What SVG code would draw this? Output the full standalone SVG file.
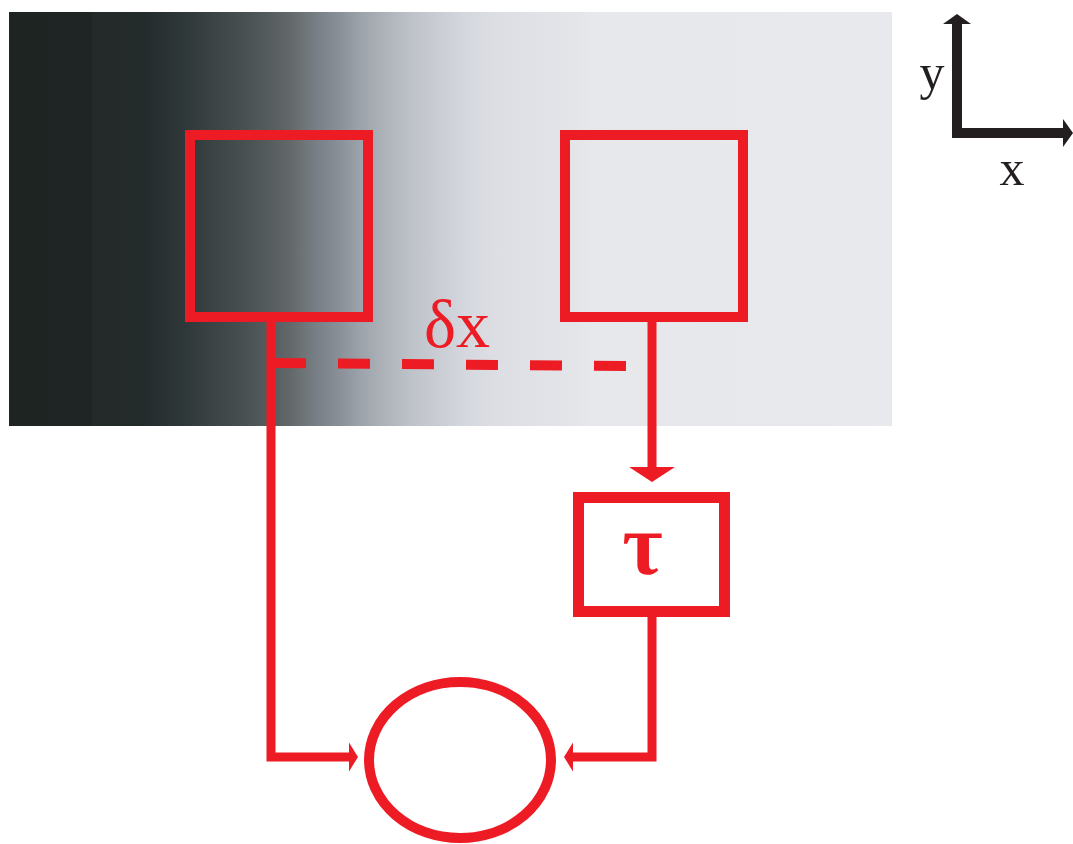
<svg xmlns="http://www.w3.org/2000/svg" width="1073" height="844" viewBox="0 0 1073 844">
<style>
.red{fill:none;stroke:#ed1c24;stroke-linejoin:miter;stroke-linecap:butt}
.box{stroke-width:10}
.conn{stroke-width:9}
.ax{fill:none;stroke:#231f20;stroke-width:10}
.serif{font-family:"Liberation Serif","Times New Roman",serif}
</style>
<defs>
<linearGradient id="grad" gradientUnits="userSpaceOnUse" x1="9" y1="0" x2="892" y2="0">
<stop offset="0" stop-color="#1e2422"/>
<stop offset="0.094" stop-color="#1f2524"/>
<stop offset="0.094" stop-color="#232a29"/>
<stop offset="0.153" stop-color="#242b2b"/>
<stop offset="0.160" stop-color="#252d2f"/>
<stop offset="0.185" stop-color="#2c3436"/>
<stop offset="0.205" stop-color="#313a3b"/>
<stop offset="0.237" stop-color="#3e4547"/>
<stop offset="0.262" stop-color="#474e50"/>
<stop offset="0.290" stop-color="#535a5c"/>
<stop offset="0.318" stop-color="#626869"/>
<stop offset="0.330" stop-color="#6c7173"/>
<stop offset="0.352" stop-color="#7a8289"/>
<stop offset="0.375" stop-color="#8a9098"/>
<stop offset="0.398" stop-color="#9da3aa"/>
<stop offset="0.426" stop-color="#aeb3ba"/>
<stop offset="0.454" stop-color="#bdc1c8"/>
<stop offset="0.482" stop-color="#c8cbd2"/>
<stop offset="0.516" stop-color="#d4d7dd"/>
<stop offset="0.550" stop-color="#dcdee3"/>
<stop offset="0.601" stop-color="#e0e2e7"/>
<stop offset="0.641" stop-color="#e3e5e9"/>
<stop offset="0.660" stop-color="#e7e8ec"/>
<stop offset="1" stop-color="#e7e9ec"/>
</linearGradient>
<marker id="headDown" markerUnits="userSpaceOnUse" markerWidth="16" markerHeight="46" refX="0" refY="23" orient="auto" overflow="visible">
<path d="M0,0 L15,23 L0,46 z" fill="#ed1c24"/>
</marker>
<marker id="headSide" markerUnits="userSpaceOnUse" markerWidth="10" markerHeight="30" refX="0" refY="14.5" orient="auto" overflow="visible">
<path d="M0,0 L9,14.5 L0,29 z" fill="#ed1c24"/>
</marker>
<marker id="axHead" markerUnits="userSpaceOnUse" markerWidth="12" markerHeight="30" refX="0" refY="14" orient="auto" overflow="visible">
<path d="M0,0 L10,14 L0,28 z" fill="#231f20"/>
</marker>
</defs>

<g id="field">
<rect x="9" y="12" width="883" height="414" fill="url(#grad)"/>
</g>

<g id="axes">
<path class="ax" d="M957,138 V24" marker-end="url(#axHead)"/>
<path class="ax" d="M952,133 H1063" marker-end="url(#axHead)"/>
<text class="serif" x="932" y="89" font-size="50" fill="#231f20" text-anchor="middle">y</text>
<text class="serif" x="1012" y="185" font-size="50" fill="#231f20" text-anchor="middle">x</text>
</g>

<g id="node-left">
<rect class="red box" x="190" y="135" width="178" height="182"/>
</g>

<g id="node-right">
<rect class="red box" x="565" y="135" width="178" height="182"/>
</g>

<g id="node-tau">
<rect class="red" stroke-width="11" x="578.5" y="497.5" width="146" height="114"/>
<text class="serif" transform="translate(647,574) skewX(10)" x="0" y="0" font-size="88" font-weight="bold" font-style="italic" fill="#ed1c24" text-anchor="middle">τ</text>
</g>

<g id="node-sum">
<ellipse class="red box" cx="460" cy="760" rx="91" ry="78"/>
</g>

<g id="connectors">
<path class="red conn" d="M271,322 V757 H349" marker-end="url(#headSide)"/>
<path class="red conn" d="M652,322 V467" marker-end="url(#headDown)"/>
<path class="red conn" d="M652,617 V757 H573" marker-end="url(#headSide)"/>
<path class="red" stroke-width="10" stroke-dasharray="32 32" d="M274,363 L626,366"/>
<text class="serif" x="457" y="347" font-size="68" fill="#ed1c24" text-anchor="middle">δx</text>
</g>
</svg>
